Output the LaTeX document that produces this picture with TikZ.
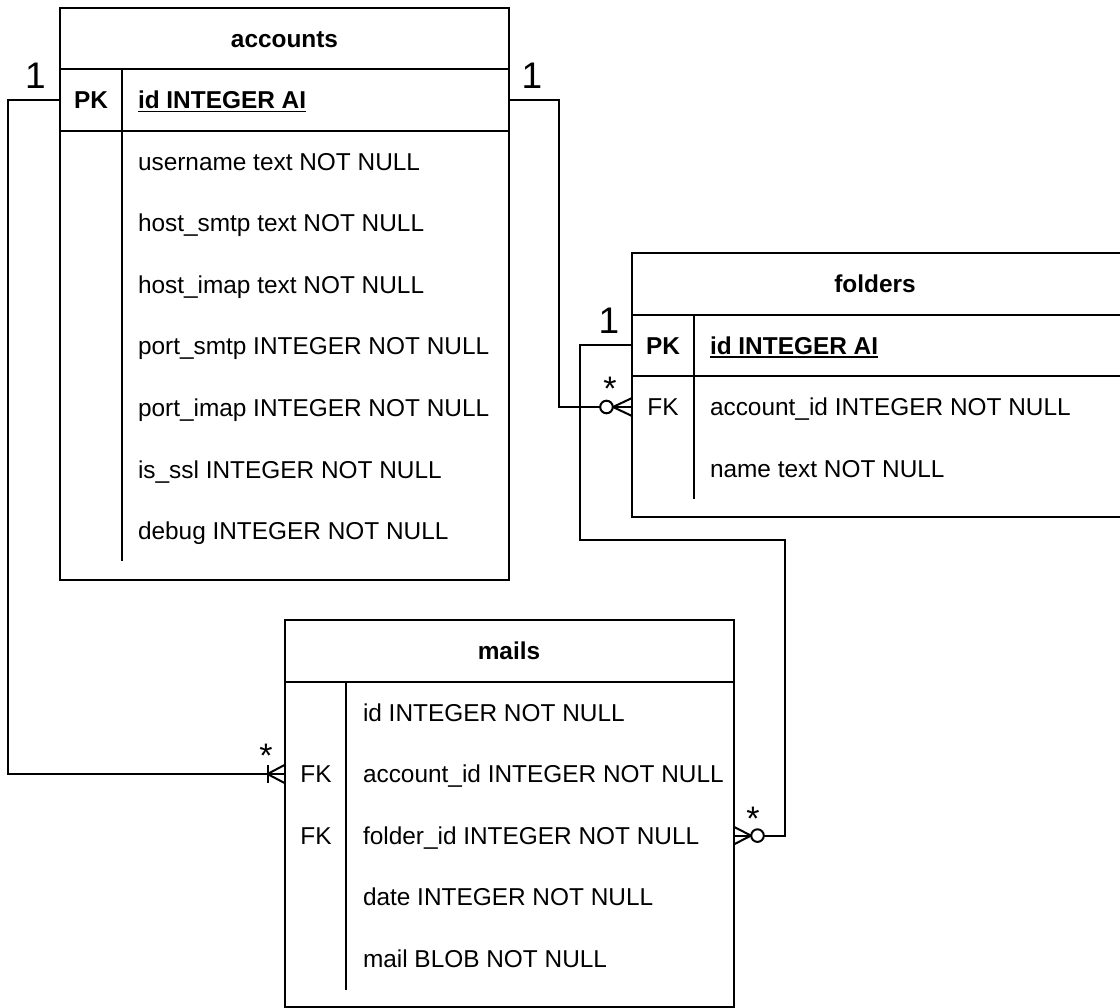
\documentclass[tikz,border=0pt]{standalone}
\usepackage{fontspec}
\setmainfont{Liberation Sans}
\usetikzlibrary{calc}
\tikzset{
  ln/.style={line width=2pt, black},
  tbl/.style={draw, line width=2pt, inner sep=0pt, outer sep=0pt, anchor=north west},
  rowbox/.style={inner sep=0pt, outer sep=0pt, anchor=north west, minimum height=61.6pt},
  txt/.style={inner sep=0pt, outer sep=0pt, anchor=base west, font=\fontsize{24.4}{29}\selectfont},
  btxt/.style={txt, font=\fontsize{24.4}{29}\selectfont\bfseries},
  hdr/.style={inner sep=0pt, outer sep=0pt, anchor=base, font=\fontsize{24.4}{29}\selectfont\bfseries},
  keyc/.style={inner sep=0pt, outer sep=0pt, anchor=base, font=\fontsize{24.4}{29}\selectfont},
  bkeyc/.style={keyc, font=\fontsize{24.4}{29}\selectfont\bfseries},
  card/.style={inner sep=0pt, outer sep=0pt, anchor=base, font=\fontsize{34}{40}\selectfont},
  one/.style={inner sep=0pt, outer sep=0pt, anchor=base, font=\fontsize{37}{44}\selectfont},
  uline/.style={line width=1.6pt, black},
}
\begin{document}
\begin{tikzpicture}[x=1pt,y=-1pt]
\fill[white] (0,0) rectangle (1120,1008);
\useasboundingbox (0,0) rectangle (1120,1008);

% ---------------- accounts ----------------
\node[tbl, minimum width=449pt, minimum height=572pt] (acc) at (60,8) {};
\node[tbl, minimum width=449pt, minimum height=61.6pt] (accpk) at (60,69) {};
\draw[ln] (121.5,69) -- (121.5,561);
\node[hdr] (acch) at (284.5,47.2) {accounts};
\node[bkeyc] (accpkl) at (91,108.5) {PK};
\node[btxt] (accid) at (138,108.5) {id INTEGER AI};
\draw[uline] ([yshift=-3pt]accid.base west) -- ([yshift=-3pt]accid.base east);
\node[txt] (accr1) at (138,170.1) {username text NOT NULL};
\node[txt] (accr2) at (138,231.7) {host\_smtp text NOT NULL};
\node[txt] (accr3) at (138,293.3) {host\_imap text NOT NULL};
\node[txt] (accr4) at (138,354.9) {port\_smtp INTEGER NOT NULL};
\node[txt] (accr5) at (138,416.5) {port\_imap INTEGER NOT NULL};
\node[txt] (accr6) at (138,478.1) {is\_ssl INTEGER NOT NULL};
\node[txt] (accr7) at (138,539.7) {debug INTEGER NOT NULL};

% ---------------- folders ----------------
\node[tbl, minimum width=490pt, minimum height=264pt] (fld) at (632,253) {};
\node[tbl, minimum width=490pt, minimum height=61.6pt] (fldpk) at (632,314.6) {};
\node[rowbox, minimum width=490pt] (fldfk) at (632,376.2) {};
\draw[ln] (693.5,314.6) -- (693.5,499.4);
\node[hdr] (fldh) at (875,292.5) {folders};
\node[bkeyc] (fldpkl) at (663,354.1) {PK};
\node[btxt] (fldid) at (710,354.1) {id INTEGER AI};
\draw[uline] ([yshift=-3pt]fldid.base west) -- ([yshift=-3pt]fldid.base east);
\node[keyc] (fldfkl) at (663,415.7) {FK};
\node[txt] (fldr1) at (710,415.7) {account\_id INTEGER NOT NULL};
\node[txt] (fldr2) at (710,477.3) {name text NOT NULL};

% ---------------- mails ----------------
\node[tbl, minimum width=449pt, minimum height=387pt] (ml) at (284.5,620) {};
\draw[ln] (284.5,681.6) -- (733.5,681.6);
\node[rowbox, minimum width=449pt] (mlacc) at (284.5,743.2) {};
\node[rowbox, minimum width=449pt] (mlfld) at (284.5,804.8) {};
\draw[ln] (346,681.6) -- (346,989.6);
\node[hdr] (mlh) at (509,659.5) {mails};
\node[txt] (mlr1) at (363,721.1) {id INTEGER NOT NULL};
\node[keyc] (mlfk1) at (316,782.7) {FK};
\node[txt] (mlr2) at (363,782.7) {account\_id INTEGER NOT NULL};
\node[keyc] (mlfk2) at (316,844.3) {FK};
\node[txt] (mlr3) at (363,844.3) {folder\_id INTEGER NOT NULL};
\node[txt] (mlr4) at (363,905.9) {date INTEGER NOT NULL};
\node[txt] (mlr5) at (363,967.5) {mail BLOB NOT NULL};

% ---------------- connectors ----------------
\draw[ln] (accpk.west) -- ++(-52,0) |- (mlacc.west);
\draw[ln] (accpk.east) -- ++(50,0) |- (fldfk.west);
\coordinate (b3a) at (580,540);
\coordinate (b3b) at (785,540);
\draw[ln] (fldpk.west) -| (b3a) -- (b3b) |- (mlfld.east);

% one-to-many end at mails.account_id
\draw[ln] ($(mlacc.west)+(-17,-9)$) -- ($(mlacc.west)+(-17,9)$);
\draw[ln] ($(mlacc.west)+(0,-9)$) -- ($(mlacc.west)+(-17,0)$) -- ($(mlacc.west)+(0,9)$);
% zero-to-many end at folders.account_id
\draw[ln] ($(fldfk.west)+(0,-9)$) -- ($(fldfk.west)+(-19,0)$) -- ($(fldfk.west)+(0,9)$);
\draw[ln, fill=white] ($(fldfk.west)+(-25.5,0)$) circle (6.3pt);
% zero-to-many end at mails.folder_id
\draw[ln] ($(mlfld.east)+(0,-9)$) -- ($(mlfld.east)+(17.5,0)$) -- ($(mlfld.east)+(0,9)$);
\draw[ln, fill=white] ($(mlfld.east)+(24,0)$) circle (6.3pt);

% cardinality labels
\node[one] (c1a) at (35.5,89) {1};
\node[one] (c1b) at (532,89) {1};
\node[one] (c1c) at (609,334) {1};
\node[card] (s1) at (266,767) {*};
\node[card] (s2) at (610,401) {*};
\node[card] (s3) at (753,830) {*};
\end{tikzpicture}
\end{document}
